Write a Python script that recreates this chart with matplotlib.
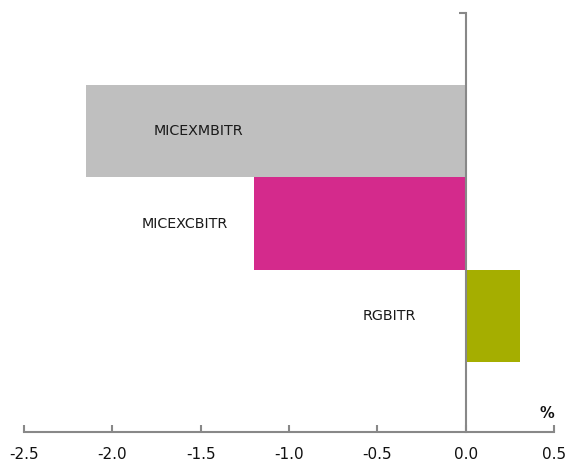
import matplotlib
matplotlib.use("Agg")
import matplotlib.pyplot as plt

categories = ["MICEXMBITR", "MICEXCBITR", "RGBITR"]
values = [-2.15, -1.20, 0.305]
colors = ["#BFBFBF", "#D42A8C", "#A5AE00"]
label_x = [-1.51, -1.59, -0.43]
xticks = [-2.5, -2.0, -1.5, -1.0, -0.5, 0.0, 0.5]

fig = plt.figure(figsize=(5.74, 4.61), dpi=100)
ax = fig.add_axes([24/574, 29/461, 530/574, 419/461])

ypos = list(range(len(categories)))
ax.barh(ypos, values, height=1.0, color=colors, zorder=1)
for y, lx, name in zip(ypos, label_x, categories):
    ax.text(lx, y, name, ha="center", va="center", fontsize=10.3, color="#1a1a1a", zorder=3)

ax.set_xlim(-2.5, 0.5)
ax.set_ylim(3.254, -1.276)
ax.set_xticks(xticks)
ax.set_xticklabels([f"{t:.1f}" for t in xticks], fontsize=11)
ax.set_yticks([-1.276])
ax.set_yticklabels([""])

axis_col = "#888888"
for s in ["top", "right"]:
    ax.spines[s].set_visible(False)
ax.spines["left"].set_position(("data", 0))
ax.spines["left"].set_color(axis_col)
ax.spines["left"].set_linewidth(1.5)
ax.spines["left"].set_zorder(4)
ax.spines["bottom"].set_color(axis_col)
ax.spines["bottom"].set_linewidth(1.5)
ax.tick_params(axis="x", direction="in", length=5, width=1.5, color=axis_col, pad=11, labelcolor="#111111")
ax.tick_params(axis="y", direction="out", length=5, width=1.5, color=axis_col)

ax.text(0.9865, 0.043, "%", transform=ax.transAxes, ha="center", va="center",
        fontsize=10.5, fontweight="bold", color="#111111")

fig.savefig("out.png", dpi=100)
